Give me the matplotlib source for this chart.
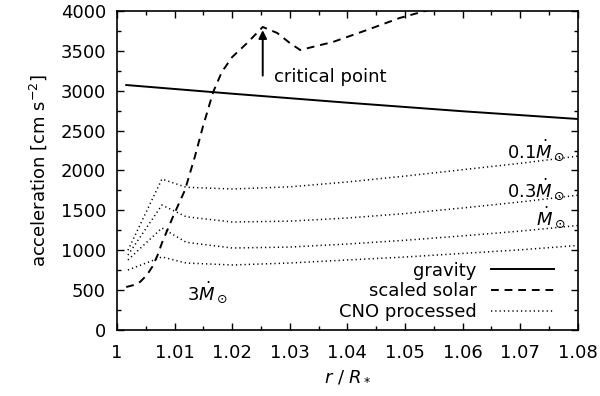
import numpy as np
import matplotlib
matplotlib.use('Agg')
import matplotlib.pyplot as plt
from matplotlib.ticker import MultipleLocator

plt.rcParams['font.family'] = ['DejaVu Sans']
plt.rcParams['mathtext.fontset'] = 'dejavusans'
plt.rcParams['font.size'] = 13

# gravity
r_grav = [1.0016, 1.02, 1.04, 1.06, 1.08]
g_grav = [3072, 2963, 2850, 2743, 2646]

# scaled solar (dashed)
r_solar = [1.0016, 1.0030, 1.0040, 1.0052, 1.0061, 1.0070, 1.0078, 1.0097, 1.0118,
           1.0135, 1.0149, 1.0167, 1.0182, 1.0200, 1.0226, 1.0253, 1.0278,
           1.0300, 1.0318, 1.0375, 1.0434, 1.0491, 1.0530, 1.0560]
g_solar = [539, 565, 602, 690, 790, 930, 1091, 1417, 1755,
           2169, 2546, 2985, 3235, 3423, 3599, 3800, 3725,
           3599, 3511, 3612, 3762, 3913, 3990, 4050]

# CNO processed (dotted), four mass-loss rates
r_cno = [1.0019, 1.0078, 1.0120, 1.0200, 1.0300, 1.0400, 1.0500, 1.0600, 1.0700, 1.0800]
g_cno_01 = [1000, 1893, 1790, 1768, 1795, 1856, 1930, 2010, 2090, 2180]
g_cno_03 = [940, 1567, 1420, 1354, 1365, 1404, 1460, 1530, 1605, 1690]
g_cno_1 = [878, 1279, 1100, 1028, 1040, 1078, 1125, 1180, 1240, 1310]
g_cno_3 = [752, 916, 840, 815, 840, 878, 915, 960, 1005, 1060]

fig = plt.figure(figsize=(6.0, 3.96), dpi=100)
ax = fig.add_axes([0.195, 0.1667, 0.768, 0.8055])

lw = 1.4
ax.plot(r_grav, g_grav, color='black', lw=lw, label='gravity')
ax.plot(r_solar, g_solar, color='black', lw=lw, dashes=(4, 3), label='scaled solar')
ax.plot(r_cno, g_cno_01, color='black', lw=1.1, dashes=(0.8, 2.0), label='CNO processed')
for g in (g_cno_03, g_cno_1, g_cno_3):
    ax.plot(r_cno, g, color='black', lw=1.1, dashes=(0.8, 2.0))

# labels for the mass-loss rates
ax.text(1.0778, 2260, r'$0.1\dot{M}_\odot$', ha='right', va='center')
ax.text(1.0778, 1770, r'$0.3\dot{M}_\odot$', ha='right', va='center')
ax.text(1.0778, 1420, r'$\dot{M}_\odot$', ha='right', va='center')
ax.text(1.0122, 480, r'$3\dot{M}_\odot$', ha='left', va='center')

# critical point
ax.annotate('', xy=(1.0253, 3760), xytext=(1.0253, 3190),
            arrowprops=dict(arrowstyle='-|>', color='black', lw=1.4,
                            mutation_scale=12, shrinkA=0, shrinkB=0))
ax.text(1.0272, 3170, 'critical point', ha='left', va='center')

ax.set_xlim(1.0, 1.08)
ax.set_ylim(0, 4000)
ax.xaxis.set_minor_locator(MultipleLocator(0.005))
ax.yaxis.set_major_locator(MultipleLocator(500))
ax.yaxis.set_minor_locator(MultipleLocator(250))
ax.set_xticks(np.arange(1.0, 1.0801, 0.01))
ax.set_xticklabels(['1', '1.01', '1.02', '1.03', '1.04', '1.05', '1.06', '1.07', '1.08'])
ax.tick_params(which='both', direction='in', top=True, right=True, width=1.0)
ax.tick_params(which='major', length=5)
ax.tick_params(axis='x', which='major', pad=10)
ax.tick_params(axis='y', which='major', pad=8)
ax.tick_params(which='minor', length=3)
for s in ax.spines.values():
    s.set_linewidth(1.2)

ax.set_xlabel(r'$r$ / $R_*$', labelpad=4)
ax.set_ylabel(r'acceleration [cm s$^{-2}$]', labelpad=8)

ax.legend(loc='lower right', frameon=False, markerfirst=False,
          handlelength=3.5, handletextpad=0.8, labelspacing=0.15,
          borderaxespad=0.0, bbox_to_anchor=(0.965, 0.005))

plt.savefig('out.png', dpi=100)
